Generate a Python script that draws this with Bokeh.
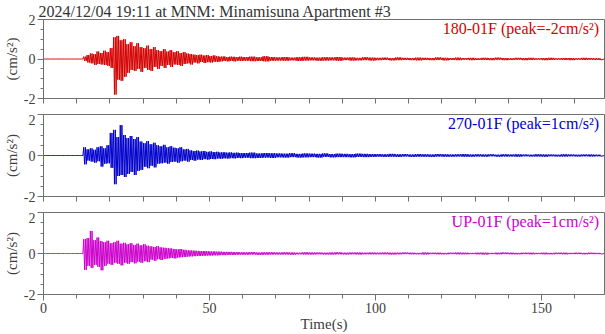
import numpy as np
from bokeh.plotting import figure
from bokeh.layouts import column
from bokeh.models import Label, FixedTicker, Range1d, ColumnDataSource, Title
from bokeh.embed import file_html
from bokeh.resources import INLINE

title_text = "2024/12/04 19:11 at MNM: Minamisuna Apartment #3"
channels = ["180-01F", "270-01F", "UP-01F"]
peaks = ["-2", "1", "1"]
colors = ["#d40000", "#0000cc", "#cc00cc"]
x_ticks = [0, 50, 100, 150]
y_ticks = [-2, 0, 2]
y_tick_labels = {-2: "-2", 0: "0", 2: "2"}

# bin starts (s): quiet part, active part (1 s bins), coda (2 s bins)
quiet_starts = [0, 2, 4, 6, 8, 10]
active_starts = list(range(12, 60))
coda_starts = list(range(60, 168, 2))

quiet_hi = [0.0, 0.0, 0.0, 0.0, 0.0, 0.0]
quiet_lo = [0.0, 0.0, 0.0, 0.0, 0.0, 0.0]

# ---- 180-01F (red): per-bin maxima / minima (cm/s^2)
red_hi = [0.12, 0.20, 0.28, 0.25, 0.38, 0.30, 0.42, 0.35,
          0.55, 1.10, 1.17, 0.95, 1.00, 0.75, 0.85, 0.65, 0.80, 0.60,
          0.55, 0.68, 0.50, 0.60, 0.45, 0.40, 0.50, 0.38, 0.45, 0.35,
          0.40, 0.30, 0.35, 0.28, 0.25, 0.22, 0.20, 0.22, 0.18, 0.20,
          0.15, 0.18, 0.14, 0.12, 0.13, 0.10, 0.12, 0.11, 0.10, 0.12]
red_lo = [-0.10, -0.18, -0.22, -0.30, -0.25, -0.28, -0.30, -0.35,
          -0.45, -1.80, -1.05, -1.10, -0.90, -0.70, -0.55, -0.60, -0.50, -0.65,
          -0.45, -0.55, -0.60, -0.40, -0.50, -0.35, -0.45, -0.30, -0.40, -0.28,
          -0.30, -0.35, -0.25, -0.22, -0.28, -0.18, -0.22, -0.15, -0.20, -0.16,
          -0.18, -0.14, -0.15, -0.12, -0.10, -0.12, -0.10, -0.12, -0.09, -0.10]
red_coda_hi = [0.10, 0.12, 0.09, 0.14, 0.10,
               0.08, 0.10, 0.07, 0.09, 0.11, 0.08, 0.07, 0.09, 0.08, 0.10, 0.07, 0.08, 0.06, 0.09, 0.07,
               0.06, 0.07, 0.05, 0.08, 0.06, 0.05, 0.07, 0.06, 0.05, 0.08,
               0.06, 0.05, 0.07, 0.05, 0.06, 0.04, 0.06, 0.05, 0.07, 0.05,
               0.04, 0.06, 0.05, 0.06, 0.04, 0.05, 0.06, 0.04, 0.05, 0.05,
               0.04, 0.06, 0.05, 0.04]
red_coda_lo = [-0.09, -0.11, -0.10, -0.12, -0.09,
               -0.08, -0.09, -0.07, -0.10, -0.08, -0.07, -0.09, -0.08, -0.07, -0.09, -0.06, -0.08, -0.07, -0.06, -0.08,
               -0.06, -0.05, -0.07, -0.06, -0.05, -0.06, -0.07, -0.05, -0.06, -0.05,
               -0.07, -0.05, -0.06, -0.04, -0.06, -0.05, -0.05, -0.06, -0.04, -0.06,
               -0.05, -0.04, -0.06, -0.05, -0.04, -0.06, -0.05, -0.04, -0.05, -0.06,
               -0.04, -0.05, -0.04, -0.05]

# ---- 270-01F (blue)
blue_hi = [0.40, 0.30, 0.35, 0.28, 0.40, 0.45, 0.35, 0.50,
           1.10, 1.25, 0.90, 1.48, 1.00, 0.85, 0.95, 0.80, 0.90, 0.68,
           0.60, 0.70, 0.55, 0.62, 0.50, 0.45, 0.52, 0.40, 0.45, 0.38,
           0.35, 0.40, 0.30, 0.32, 0.25, 0.22, 0.24, 0.20, 0.22, 0.18,
           0.20, 0.17, 0.18, 0.15, 0.16, 0.14, 0.15, 0.13, 0.14, 0.12]
blue_lo = [-0.43, -0.25, -0.30, -0.35, -0.28, -0.54, -0.40, -0.38,
           -0.60, -1.40, -1.00, -0.95, -1.05, -0.90, -0.80, -0.95, -0.75, -0.70,
           -0.55, -0.62, -0.50, -0.58, -0.40, -0.38, -0.35, -0.40, -0.32, -0.30,
           -0.35, -0.28, -0.25, -0.30, -0.22, -0.25, -0.20, -0.22, -0.18, -0.20,
           -0.17, -0.18, -0.15, -0.16, -0.14, -0.15, -0.13, -0.14, -0.12, -0.13]
blue_coda_hi = [0.12, 0.14, 0.10, 0.12, 0.11,
                0.10, 0.09, 0.11, 0.08, 0.10, 0.09, 0.08, 0.10, 0.07, 0.09, 0.08, 0.07, 0.09, 0.08, 0.07,
                0.07, 0.06, 0.08, 0.06, 0.07, 0.05, 0.07, 0.06, 0.05, 0.07,
                0.06, 0.05, 0.06, 0.07, 0.05, 0.06, 0.05, 0.06, 0.04, 0.06,
                0.05, 0.06, 0.05, 0.04, 0.06, 0.05, 0.05, 0.04, 0.06, 0.05,
                0.04, 0.05, 0.05, 0.04]
blue_coda_lo = [-0.11, -0.13, -0.12, -0.10, -0.12,
                -0.09, -0.10, -0.08, -0.10, -0.09, -0.08, -0.10, -0.07, -0.09, -0.08, -0.08, -0.09, -0.07, -0.08, -0.07,
                -0.06, -0.07, -0.06, -0.07, -0.05, -0.07, -0.06, -0.06, -0.07, -0.05,
                -0.06, -0.06, -0.05, -0.06, -0.06, -0.05, -0.06, -0.04, -0.06, -0.05,
                -0.05, -0.06, -0.04, -0.05, -0.05, -0.06, -0.04, -0.05, -0.05, -0.04,
                -0.05, -0.04, -0.05, -0.04]

# ---- UP-01F (magenta)
mag_hi = [0.70, 0.75, 1.10, 0.65, 0.78, 0.60, 0.55, 0.62,
          0.50, 0.55, 0.62, 0.48, 0.52, 0.45, 0.50, 0.42, 0.48, 0.40,
          0.45, 0.38, 0.35, 0.32, 0.36, 0.30, 0.28, 0.26, 0.25, 0.22,
          0.20, 0.22, 0.18, 0.16, 0.15, 0.14, 0.13, 0.12, 0.12, 0.11,
          0.10, 0.10, 0.09, 0.09, 0.08, 0.08, 0.08, 0.07, 0.07, 0.06]
mag_lo = [-0.80, -0.60, -0.70, -0.55, -0.65, -0.82, -0.60, -0.50,
          -0.55, -0.45, -0.50, -0.58, -0.45, -0.50, -0.42, -0.48, -0.40, -0.45,
          -0.38, -0.42, -0.30, -0.35, -0.28, -0.32, -0.26, -0.24, -0.22, -0.24,
          -0.20, -0.18, -0.17, -0.15, -0.14, -0.13, -0.12, -0.12, -0.11, -0.10,
          -0.10, -0.09, -0.09, -0.08, -0.08, -0.07, -0.07, -0.07, -0.06, -0.06]
mag_coda_hi = [0.06, 0.07, 0.05, 0.06, 0.06,
               0.05, 0.06, 0.05, 0.04, 0.06, 0.05, 0.05, 0.04, 0.05, 0.06, 0.04, 0.05, 0.05, 0.04, 0.05,
               0.04, 0.05, 0.04, 0.04, 0.05, 0.04, 0.03, 0.05, 0.04, 0.04,
               0.03, 0.04, 0.05, 0.04, 0.03, 0.04, 0.04, 0.03, 0.04, 0.05,
               0.04, 0.03, 0.04, 0.04, 0.03, 0.04, 0.03, 0.04, 0.04, 0.03,
               0.04, 0.03, 0.04, 0.03]
mag_coda_lo = [-0.06, -0.05, -0.07, -0.06, -0.05,
               -0.05, -0.05, -0.06, -0.04, -0.05, -0.05, -0.04, -0.05, -0.05, -0.04, -0.05, -0.04, -0.05, -0.04, -0.04,
               -0.04, -0.04, -0.05, -0.04, -0.03, -0.04, -0.04, -0.05, -0.03, -0.04,
               -0.04, -0.03, -0.04, -0.04, -0.03, -0.04, -0.05, -0.03, -0.04, -0.03,
               -0.04, -0.04, -0.03, -0.04, -0.03, -0.04, -0.04, -0.03, -0.04, -0.03,
               -0.03, -0.04, -0.03, -0.03]

traces = [
    (red_hi, red_lo, red_coda_hi, red_coda_lo),
    (blue_hi, blue_lo, blue_coda_hi, blue_coda_lo),
    (mag_hi, mag_lo, mag_coda_hi, mag_coda_lo),
]

X_END = 169
FONT = "Liberation Serif"
AX = "#707070"
TXT = "#404040"
STROKE = 0.25   # seconds between successive extremes when drawing each bin


def zigzag(hi_a, lo_a, hi_c, lo_c):
    """Draw each time bin as a dense up/down stroke between its read max and min."""
    starts = quiet_starts + active_starts + coda_starts
    widths = [2] * len(quiet_starts) + [1] * len(active_starts) + [2] * len(coda_starts)
    his = quiet_hi + hi_a + hi_c
    los = quiet_lo + lo_a + lo_c
    xs, ys = [0.0], [0.0]
    for s, w, h, l in zip(starts, widths, his, los):
        n = int(round(w / STROKE))
        for j in range(n):
            xs.append(s + (j + 0.5) * STROKE)
            ys.append(h if j % 2 == 0 else l)
    xs.append(X_END)
    ys.append(0.0)
    return xs, ys


heights = [114, 98, 122]
tops = [0, 0, 0]
bottoms = [16, 16, 40]
figs = []
for k in range(3):
    p = figure(width=605, height=heights[k], x_range=Range1d(0, X_END), y_range=Range1d(-2, 2),
               output_backend="svg", toolbar_location=None,
               min_border_left=41, min_border_right=1,
               min_border_top=tops[k], min_border_bottom=bottoms[k])
    p.xgrid.visible = False
    p.ygrid.visible = False
    p.outline_line_color = AX
    p.outline_line_width = 1
    p.background_fill_color = "white"
    p.border_fill_color = "white"

    hi_a, lo_a, hi_c, lo_c = traces[k]
    xs, ys = zigzag(hi_a, lo_a, hi_c, lo_c)
    src = ColumnDataSource(dict(t=xs, a=ys))
    p.line("t", "a", source=src, line_color=colors[k], line_width=1)

    for ax in (p.xaxis[0], p.yaxis[0]):
        ax.axis_line_color = AX
        ax.major_tick_line_color = AX
        ax.minor_tick_line_color = AX
        ax.major_tick_in = 0
        ax.minor_tick_in = 0
        ax.major_tick_out = 6
        ax.minor_tick_out = 3
        ax.major_label_text_font = FONT
        ax.major_label_text_font_size = "14px"
        ax.major_label_text_color = TXT
        ax.axis_label_text_font = FONT
        ax.axis_label_text_font_size = "15px"
        ax.axis_label_text_font_style = "normal"
        ax.axis_label_text_color = TXT

    p.yaxis.ticker = FixedTicker(ticks=y_ticks, minor_ticks=[-1.5, -1, -0.5, 0.5, 1, 1.5])
    p.yaxis.major_label_overrides = y_tick_labels
    p.yaxis.axis_label = "(cm/s\u00b2)"
    p.yaxis.major_label_standoff = 2
    p.yaxis.axis_label_standoff = 1

    if k < 2:
        p.xaxis.ticker = FixedTicker(ticks=[], minor_ticks=list(range(0, 170, 10)))
        p.xaxis.minor_tick_out = 5
    else:
        p.xaxis.ticker = FixedTicker(ticks=x_ticks, minor_ticks=list(range(0, 170, 10)))
        p.xaxis.minor_tick_out = 4
        p.xaxis.axis_label = "Time(s)"
        p.xaxis.axis_label_text_font_size = "15px"
        p.xaxis.major_label_standoff = 2
        p.xaxis.axis_label_standoff = 0

    p.add_layout(Label(x=167.4, y=1.56, text=f"{channels[k]} (peak={peaks[k]}cm/s\u00b2)",
                       text_align="right", text_baseline="middle", text_color=colors[k],
                       text_font=FONT, text_font_size="16px"))
    if k == 0:
        p.title = Title(text=title_text, align="left", text_font=FONT, text_font_size="16px",
                        text_font_style="normal", text_color="#333333", standoff=0, offset=-5,
                        text_line_height=0.9)
    figs.append(p)

layout = column(*figs, spacing=0)
open("out.html", "w").write(file_html(layout, INLINE))
